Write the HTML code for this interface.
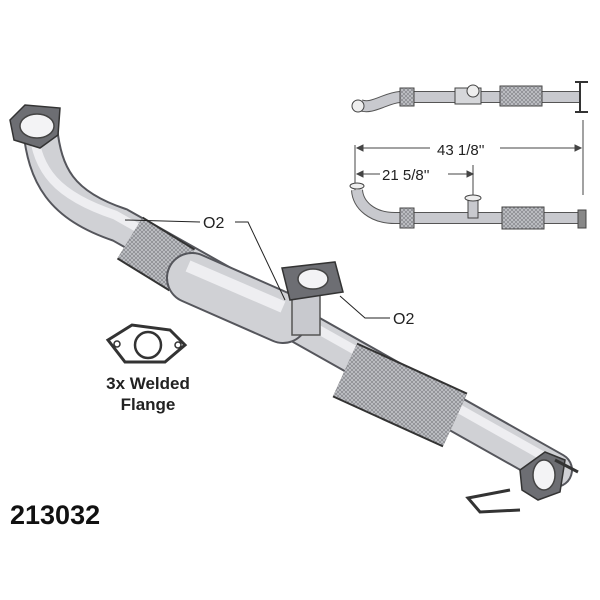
<!DOCTYPE html>
<html><head><style>
html,body{margin:0;padding:0;background:#fff;width:600px;height:600px;overflow:hidden}
</style></head><body>
<svg width="600" height="600" viewBox="0 0 600 600" xmlns="http://www.w3.org/2000/svg" font-family="Liberation Sans, sans-serif">
<defs>
<pattern id="mesh" width="4" height="4" patternUnits="userSpaceOnUse">
<rect width="4" height="4" fill="#8a8b90"/><path d="M0 0L4 4M4 0L0 4" stroke="#c4c5ca" stroke-width="0.8"/>
</pattern>
</defs>
<path d="M40 128 C45 175 60 205 120 225 L555 470" stroke="#55565c" stroke-width="36" fill="none" stroke-linecap="round"/>
<path d="M40 128 C45 175 60 205 120 225 L555 470" stroke="#d0d1d5" stroke-width="32" fill="none" stroke-linecap="round"/>
<path d="M33 130 C38 170 55 195 115 215 L550 460" stroke="#eeeef1" stroke-width="9" fill="none"/>
<path d="M130 238 L182 270" stroke="#333" stroke-width="50" fill="none"/>
<path d="M130 238 L182 270" stroke="url(#mesh)" stroke-width="46" fill="none"/>
<path d="M192 278 L283 318" stroke="#55565c" stroke-width="52" fill="none" stroke-linecap="round"/>
<path d="M192 278 L283 318" stroke="#d0d1d5" stroke-width="48" fill="none" stroke-linecap="round"/>
<path d="M188 266 L283 307" stroke="#eeeef1" stroke-width="12" fill="none"/>
<rect x="292" y="285" width="28" height="50" fill="#c8c9ce" stroke="#555" stroke-width="1.5"/>
<path d="M282 268 L335 262 L343 292 L290 300 Z" fill="#6d6e73" stroke="#333" stroke-width="1.5"/>
<ellipse cx="313" cy="279" rx="15" ry="10" fill="#f3f3f5" stroke="#444" stroke-width="1.5"/>
<path d="M345 370 L455 420" stroke="#333" stroke-width="60" fill="none"/>
<path d="M345 370 L455 420" stroke="url(#mesh)" stroke-width="56" fill="none"/>
<path d="M10 120 L25 105 L60 108 L58 135 L40 148 L14 140 Z" fill="#6d6e73" stroke="#333" stroke-width="1.5"/>
<ellipse cx="37" cy="126" rx="17" ry="12" fill="#f3f3f5" stroke="#444" stroke-width="1.5"/>
<path d="M520 470 L545 452 L565 460 L560 492 L538 500 L522 490 Z" fill="#6d6e73" stroke="#333" stroke-width="1.5"/>
<ellipse cx="544" cy="475" rx="11" ry="15" fill="#f3f3f5" stroke="#444" stroke-width="1.5"/>
<path d="M555 460 L578 472 M510 490 L468 498 L480 512 L520 510" stroke="#333" stroke-width="3" fill="none"/>
<path d="M108 340 L132 325 L170 330 L185 345 L165 362 L125 362 Z" fill="#fff" stroke="#333" stroke-width="3"/>
<circle cx="148" cy="345" r="13" fill="#fff" stroke="#333" stroke-width="2.5"/>
<circle cx="117" cy="344" r="3" fill="#fff" stroke="#333" stroke-width="1.5"/>
<circle cx="178" cy="345" r="3" fill="#fff" stroke="#333" stroke-width="1.5"/>
<text x="148" y="389" font-size="17" font-weight="bold" text-anchor="middle" fill="#222">3x Welded</text>
<text x="148" y="410" font-size="17" font-weight="bold" text-anchor="middle" fill="#222">Flange</text>
<text x="203" y="228" font-size="16" fill="#222">O2</text>
<path d="M125 220 L200 222 M235 222 L248 222 L285 300" stroke="#222" stroke-width="1" fill="none"/>
<text x="393" y="324" font-size="16" fill="#222">O2</text>
<path d="M340 296 L365 318 L390 318" stroke="#222" stroke-width="1" fill="none"/>
<text x="10" y="524" font-size="27" font-weight="bold" fill="#111">213032</text>
<g stroke="#444" stroke-width="1">
<path d="M360 105 C372 110 385 98 400 97 L580 97" stroke="#555" stroke-width="12" fill="none"/>
<path d="M360 105 C372 110 385 98 400 97 L580 97" stroke="#c8c9ce" stroke-width="10" fill="none"/>
<rect x="400" y="88" width="14" height="18" fill="url(#mesh)"/>
<rect x="500" y="86" width="42" height="20" fill="url(#mesh)"/>
<rect x="455" y="88" width="26" height="16" fill="#d6d7da"/>
<circle cx="473" cy="91" r="6" fill="#eee"/>
<circle cx="358" cy="106" r="6" fill="#eee"/>
<path d="M575 82 L588 82 M575 112 L588 112 M580 82 L580 112" stroke="#333" stroke-width="2"/>
<path d="M355 145 L355 190 M583 120 L583 195 M357 148 L430 148 M500 148 L581 148 M357 174 L380 174 M448 174 L473 174 M473 165 L473 195" fill="none"/>
<path d="M357 148 l6 -3 v6 z M581 148 l-6 -3 v6 z M357 174 l6 -3 v6 z M473 174 l-6 -3 v6 z" fill="#444"/>
</g>
<text x="437" y="155" font-size="15" fill="#222">43 1/8''</text>
<text x="382" y="180" font-size="15" fill="#222">21 5/8''</text>
<g stroke="#444" stroke-width="1">
<path d="M357 190 C358 205 372 218 395 218 L580 218" stroke="#555" stroke-width="12" fill="none"/>
<path d="M357 190 C358 205 372 218 395 218 L580 218" stroke="#c8c9ce" stroke-width="10" fill="none"/>
<rect x="400" y="208" width="14" height="20" fill="url(#mesh)"/>
<rect x="502" y="207" width="42" height="22" fill="url(#mesh)"/>
<rect x="468" y="198" width="10" height="20" fill="#c8c9ce"/>
<ellipse cx="473" cy="198" rx="8" ry="3" fill="#eee"/>
<ellipse cx="357" cy="186" rx="7" ry="3" fill="#eee"/>
<rect x="578" y="210" width="8" height="18" fill="#888"/>
</g>
</svg>
</body></html>
